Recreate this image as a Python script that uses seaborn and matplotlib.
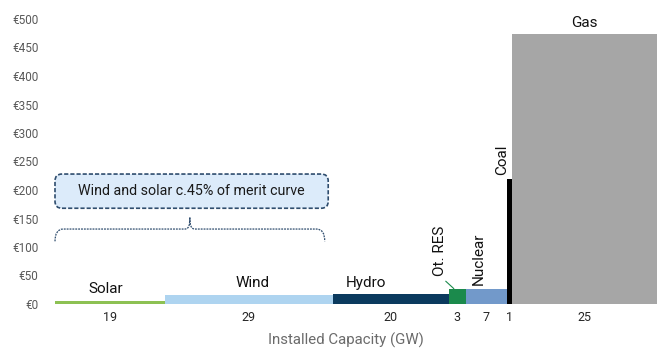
import numpy as np
import pandas as pd
import seaborn as sns
import matplotlib.pyplot as plt
from matplotlib.path import Path
from matplotlib.patches import PathPatch, FancyBboxPatch

# Merit order: installed capacity (GW) and marginal cost (EUR/MWh) per technology
sources = ["Solar", "Wind", "Hydro", "Ot. RES", "Nuclear", "Coal", "Gas"]
capacity_gw = [19, 29, 20, 3, 7, 1, 25]
marginal_cost = [6, 16, 17, 27, 27, 219, 474]
colors = ["#8DC153", "#AED4F0", "#0B3A5E", "#1B8A4C", "#7299CA", "#000000", "#A6A6A6"]
y_ticks = [0, 50, 100, 150, 200, 250, 300, 350, 400, 450, 500]
y_tick_labels = ["€0", "€50", "€100", "€150", "€200", "€250", "€300", "€350", "€400", "€450", "€500"]

edges = [0.0] + [float(v) for v in np.cumsum(capacity_gw)]
mids = [(a + b) / 2 for a, b in zip(edges[:-1], edges[1:])]
df = pd.DataFrame({"source": sources, "mid": mids, "cost": marginal_cost})

sns.set_theme(style="white")
plt.rcParams["font.family"] = ["Roboto", "DejaVu Sans"]

fig = plt.figure(figsize=(6.57, 3.49), dpi=100)
ax = fig.add_axes([55 / 657, 1 - 304 / 349, 602 / 657, 285 / 349])

# Variable-width bars: one histogram bin per technology, weighted by its cost
sns.histplot(
    data=df, x="mid", weights="cost", hue="source", bins=edges,
    palette=dict(zip(sources, colors)), multiple="layer", alpha=1,
    linewidth=0, legend=False, ax=ax,
)

ax.set_xlim(0, edges[-1])
ax.set_ylim(0, 500)
sns.despine(ax=ax, left=True, bottom=True)

ax.set_yticks(y_ticks)
ax.set_yticklabels(y_tick_labels, color="#595959", fontsize=8.5)
ax.set_xticks(mids)
ax.set_xticklabels([str(c) for c in capacity_gw], color="#262626", fontsize=9)
ax.tick_params(axis="y", length=0, pad=12)
ax.tick_params(axis="x", length=0, pad=5)
ax.set_ylabel("")
ax.set_xlabel("Installed Capacity (GW)", color="#6B6B6B", fontsize=10.8)
ax.xaxis.set_label_coords((346 - 55) / 602, -0.1)
ax.xaxis.label.set_va("top")

idx = {s: i for i, s in enumerate(sources)}
lab_kw = dict(color="#111111", fontsize=11)

# Horizontal technology labels
ax.text(mids[idx["Solar"]] - 0.8, marginal_cost[idx["Solar"]] + 8, "Solar", ha="center", va="bottom", **lab_kw)
ax.text(mids[idx["Wind"]] + 0.7, marginal_cost[idx["Wind"]] + 8, "Wind", ha="center", va="bottom", **lab_kw)
ax.text(mids[idx["Hydro"]] - 4.2, marginal_cost[idx["Hydro"]] + 8, "Hydro", ha="center", va="bottom", **lab_kw)
ax.text(mids[idx["Gas"]], marginal_cost[idx["Gas"]] + 6, "Gas", ha="center", va="bottom", **lab_kw)

# Rotated labels for the narrow segments
ot = idx["Ot. RES"]
ax.text(mids[ot] - 3.0, 50, "Ot. RES", rotation=90, ha="center", va="bottom", **lab_kw)
ax.plot([mids[ot] - 2.0, mids[ot] - 0.6], [40, marginal_cost[ot]], color="#1B8A4C", lw=0.8)
nu = idx["Nuclear"]
ax.text(mids[nu] - 1.3, marginal_cost[nu] + 6, "Nuclear", rotation=90, ha="center", va="bottom", **lab_kw)
co = idx["Coal"]
ax.text(mids[co] - 1.2, marginal_cost[co] + 7, "Coal", rotation=90, ha="center", va="bottom", **lab_kw)

# Callout box (rounded, dashed outline)
x_per_px = 1 / 5.79
y_per_px = 1 / 0.57
box = FancyBboxPatch(
    (0, 168), 47.2, 60,
    boxstyle="round,pad=0,rounding_size=1.2",
    mutation_aspect=y_per_px / x_per_px,
    facecolor="#DCEBFA", edgecolor="#2F4D6E", linewidth=1.2, linestyle=(0, (2.5, 1.2)),
    clip_on=False,
)
ax.add_patch(box)
ax.text(23.6, 198, "Wind and solar c.45% of merit curve", ha="center", va="center",
        fontsize=10.3, color="#1A1A1A")

# Curly brace spanning the wind + solar capacity
x0, x1, xc = 0.0, 46.6, 23.3
y_end, y_mid, y_tip = 110, 131.5, 152
verts = [
    (x0, y_end), (x0, y_mid), (x0 + 1.4, y_mid),
    (xc - 0.9, y_mid),
    (xc - 0.2, y_mid), (xc, y_mid + 6), (xc, y_tip),
    (xc, y_mid + 6), (xc + 0.2, y_mid), (xc + 0.9, y_mid),
    (x1 - 1.4, y_mid),
    (x1, y_mid), (x1, y_end),
]
codes = [
    Path.MOVETO, Path.CURVE3, Path.CURVE3,
    Path.LINETO,
    Path.CURVE4, Path.CURVE4, Path.CURVE4,
    Path.CURVE4, Path.CURVE4, Path.CURVE4,
    Path.LINETO,
    Path.CURVE3, Path.CURVE3,
]
brace = PathPatch(Path(verts, codes), facecolor="none", edgecolor="#2F4D6E",
                  linewidth=0.9, linestyle=(0, (1.5, 0.8)), clip_on=False)
ax.add_patch(brace)

fig.savefig("out.png", dpi=100)
